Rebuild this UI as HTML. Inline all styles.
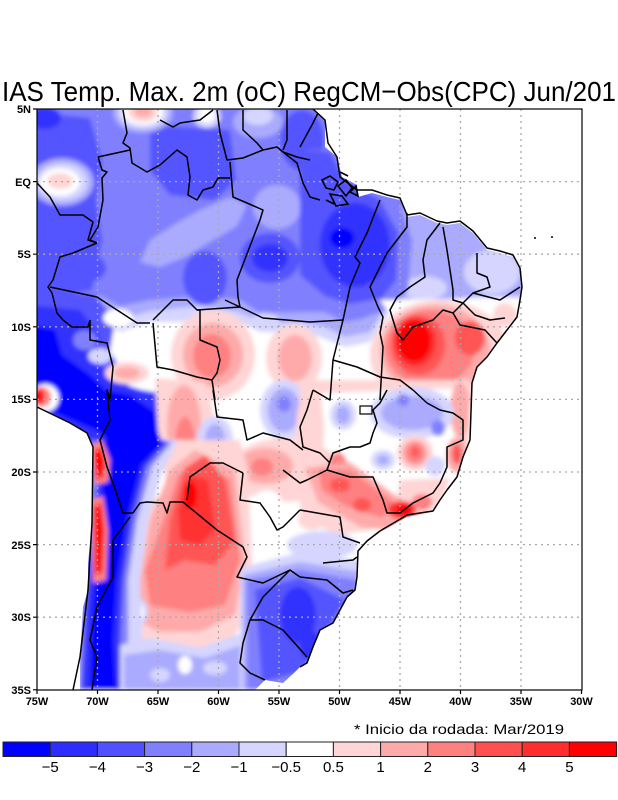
<!DOCTYPE html>
<html><head><meta charset="utf-8"><style>
html,body{margin:0;padding:0;background:#fff;}
svg{display:block;}
text{font-family:"Liberation Sans",sans-serif;}
</style></head><body>
<svg width="618" height="800" viewBox="0 0 618 800" xmlns="http://www.w3.org/2000/svg">
<defs>
<clipPath id="m"><path d="M37,109 L313,109 L325,120 L325,147 L337,157 L342,177 L357,185 L358,197 L372,193 L387,197 L400,200 L407,217 L420,215 L437,223 L447,225 L460,223 L473,233 L487,250 L500,253 L513,257 L520,270 L522,287 L520,300 L517,317 L507,330 L497,343 L487,357 L477,367 L472,383 L470,440 L463,457 L457,477 L447,490 L440,500 L433,513 L420,515 L407,517 L397,523 L380,533 L367,543 L358,553 L357,577 L355,590 L347,597 L340,610 L333,623 L320,630 L313,647 L307,663 L300,667 L295,672 L283,683 L265,680 L255,690 L80,690 L80,657 L83,607 L88,590 L88,563 L92,523 L93,447 L87,433 L70,423 L55,415 L37,408 Z"/></clipPath>
<filter id="b" x="-5%" y="-5%" width="110%" height="110%"><feGaussianBlur stdDeviation="2.2"/></filter>
</defs>
<rect width="618" height="800" fill="#fff"/>
<text x="2" y="101" font-size="28" textLength="614" lengthAdjust="spacingAndGlyphs">IAS Temp. Max. 2m (oC) RegCM−Obs(CPC) Jun/201</text>

<g clip-path="url(#m)"><g filter="url(#b)">
<rect x="30" y="100" width="560" height="600" fill="#fff"/>
<!-- north blues -->
<path fill="#d5d5ff" d="M30,100 H530 V300 L500,305 L470,300 L440,310 L400,305 L385,318 L370,342 L345,347 L320,337 L300,332 L260,332 L240,322 L200,317 L180,322 L150,322 L120,332 L100,322 L30,312 Z"/>
<path fill="#aaaaff" d="M30,100 H530 V292 L500,296 L470,292 L440,300 L405,298 L385,308 L370,332 L345,337 L325,327 L300,322 L265,324 L240,312 L200,306 L150,311 L120,320 L100,311 L30,302 Z"/>
<path fill="#8080ff" d="M30,100 H420 L410,215 L400,260 L395,295 L380,305 L365,318 L345,322 L325,312 L300,312 L260,313 L240,300 L200,296 L150,300 L120,306 L100,296 L30,290 Z"/>
<ellipse cx="490" cy="272" rx="32" ry="26" fill="#d5d5ff"/>
<ellipse cx="425" cy="285" rx="25" ry="14" fill="#d5d5ff"/>
<path fill="#5555ff" d="M30,112 L90,118 L102,160 L96,200 L102,240 L92,290 L30,300 Z"/>
<ellipse cx="45" cy="118" rx="16" ry="11" fill="#3333ff"/>
<ellipse cx="62" cy="182" rx="32" ry="24" fill="#aaaaff"/>
<ellipse cx="62" cy="182" rx="26" ry="19" fill="#d5d5ff"/>
<ellipse cx="60" cy="182" rx="20" ry="14" fill="#fff"/>
<ellipse cx="60" cy="181" rx="13" ry="8" fill="#ffd5d5"/>
<path fill="#5555ff" d="M150,125 L230,130 L236,180 L215,200 L170,195 L150,170 Z"/>
<ellipse cx="143" cy="113" rx="30" ry="20" fill="#aaaaff"/>
<ellipse cx="143" cy="113" rx="25" ry="16" fill="#d5d5ff"/>
<ellipse cx="143" cy="112" rx="20" ry="13" fill="#fff"/>
<ellipse cx="143" cy="112" rx="15" ry="10" fill="#ffd5d5"/>
<ellipse cx="143" cy="111" rx="9" ry="6" fill="#ffaaaa"/>
<ellipse cx="207" cy="116" rx="14" ry="12" fill="#d5d5ff"/>
<ellipse cx="207" cy="115" rx="8" ry="8" fill="#fff"/>
<ellipse cx="258" cy="122" rx="25" ry="16" fill="#aaaaff"/>
<ellipse cx="258" cy="116" rx="15" ry="9" fill="#d5d5ff"/>
<ellipse cx="302" cy="140" rx="22" ry="30" fill="#5555ff"/>
<path fill="#aaaaff" d="M140,262 L150,240 L175,224 L200,210 L230,197 L247,205 L237,226 L210,242 L185,257 L160,267 Z"/>
<ellipse cx="277" cy="207" rx="24" ry="22" fill="#aaaaff"/>
<ellipse cx="88" cy="268" rx="18" ry="14" fill="#5555ff"/>
<ellipse cx="205" cy="278" rx="22" ry="27" fill="#5555ff"/>
<ellipse cx="270" cy="258" rx="30" ry="25" fill="#5555ff"/>
<ellipse cx="270" cy="258" rx="18" ry="14" fill="#3333ff"/>
<!-- Para -->
<path fill="#aaaaff" d="M390,205 L530,235 L530,296 L480,296 L440,300 L400,298 Z"/>
<ellipse cx="492" cy="272" rx="28" ry="22" fill="#d5d5ff"/>
<ellipse cx="425" cy="288" rx="22" ry="12" fill="#d5d5ff"/>
<path fill="#8080ff" d="M300,150 L335,150 L360,180 L400,205 L412,240 L408,290 L390,310 L360,318 L330,308 L300,290 Z"/>
<path fill="#5555ff" d="M300,150 L330,152 L345,180 L380,200 L398,232 L396,280 L382,298 L350,304 L325,296 L300,275 Z"/>
<ellipse cx="355" cy="245" rx="35" ry="42" fill="#3333ff"/>
<ellipse cx="342" cy="238" rx="12" ry="10" fill="#0000ff"/>
<!-- NE red -->
<path fill="#fff" d="M380,300 L520,298 L520,320 L470,335 L400,330 Z"/>
<ellipse cx="440" cy="355" rx="70" ry="55" fill="#ffd5d5"/>
<ellipse cx="435" cy="350" rx="55" ry="45" fill="#ffaaaa"/>
<ellipse cx="430" cy="348" rx="45" ry="38" fill="#ff8080"/>
<ellipse cx="470" cy="338" rx="15" ry="17" fill="#ff5555"/>
<ellipse cx="418" cy="345" rx="27" ry="30" fill="#ff5555"/>
<ellipse cx="415" cy="342" rx="21" ry="25" fill="#ff3333"/>
<ellipse cx="414" cy="341" rx="17" ry="21" fill="#ff0000"/>
<ellipse cx="505" cy="315" rx="12" ry="12" fill="#ffd5d5"/>
<!-- west dark blue -->
<path fill="#5555ff" d="M30,290 L95,295 L115,320 L110,350 L130,388 L172,395 L177,440 L160,462 L120,472 L100,452 L30,412 Z"/>
<path fill="#3333ff" d="M30,305 L80,310 L100,335 L95,360 L120,383 L166,398 L167,440 L150,455 L115,457 L95,442 L30,406 Z"/>
<path fill="#0000ff" d="M30,325 L55,330 L62,355 L90,375 L105,390 L130,395 L155,412 L160,440 L145,450 L115,447 L100,432 L30,402 Z"/>
<ellipse cx="85" cy="340" rx="12" ry="10" fill="#8080ff"/>
<ellipse cx="100" cy="356" rx="12" ry="8" fill="#d5d5ff"/>
<ellipse cx="45" cy="398" rx="14" ry="14" fill="#fff"/>
<ellipse cx="42" cy="397" rx="9" ry="10" fill="#ff8080"/>
<ellipse cx="39" cy="396" rx="5" ry="8" fill="#ff0000"/>
<ellipse cx="118" cy="318" rx="15" ry="9" fill="#fff"/>
<!-- central pinks -->
<ellipse cx="213" cy="355" rx="42" ry="45" fill="#ffd5d5"/>
<ellipse cx="213" cy="355" rx="30" ry="32" fill="#ffaaaa"/>
<ellipse cx="212" cy="356" rx="19" ry="22" fill="#ff8080"/>
<ellipse cx="294" cy="358" rx="28" ry="34" fill="#ffd5d5"/>
<ellipse cx="295" cy="358" rx="17" ry="23" fill="#ffaaaa"/>
<ellipse cx="265" cy="322" rx="15" ry="9" fill="#d5d5ff"/>
<ellipse cx="127" cy="373" rx="22" ry="11" fill="#ffd5d5"/>
<ellipse cx="127" cy="373" rx="13" ry="6" fill="#ffaaaa"/>
<path fill="#ffd5d5" d="M155,378 L205,382 L215,420 L208,470 L170,470 L158,430 Z"/>
<ellipse cx="184" cy="425" rx="17" ry="40" fill="#ffaaaa"/>
<ellipse cx="185" cy="445" rx="10" ry="28" fill="#ff8080"/>
<ellipse cx="343" cy="415" rx="14" ry="16" fill="#d5d5ff"/>
<ellipse cx="343" cy="415" rx="8" ry="10" fill="#aaaaff"/>
<ellipse cx="284" cy="410" rx="24" ry="30" fill="#d5d5ff"/>
<ellipse cx="284" cy="410" rx="16" ry="22" fill="#aaaaff"/>
<ellipse cx="284" cy="404" rx="7" ry="8" fill="#8080ff"/>
<ellipse cx="215" cy="440" rx="18" ry="24" fill="#d5d5ff"/>
<ellipse cx="215" cy="440" rx="10" ry="16" fill="#aaaaff"/>
<!-- SE Brazil -->
<path fill="#ffd5d5" d="M300,380 L470,380 L470,440 L440,500 L400,525 L340,535 L300,520 Z"/>
<path fill="#fff" d="M322,393 L462,388 L455,495 L392,500 L342,470 L318,455 Z"/>
<ellipse cx="310" cy="430" rx="14" ry="42" fill="#ffd5d5"/>
<ellipse cx="460" cy="410" rx="10" ry="28" fill="#ffaaaa"/>
<ellipse cx="412" cy="413" rx="42" ry="26" fill="#d5d5ff"/>
<ellipse cx="412" cy="413" rx="31" ry="17" fill="#aaaaff"/>
<ellipse cx="438" cy="428" rx="7" ry="8" fill="#8080ff"/>
<ellipse cx="403" cy="400" rx="6" ry="6" fill="#8080ff"/>
<ellipse cx="343" cy="415" rx="13" ry="15" fill="#d5d5ff"/>
<ellipse cx="343" cy="415" rx="7" ry="9" fill="#aaaaff"/>
<ellipse cx="415" cy="453" rx="18" ry="18" fill="#ffd5d5"/>
<ellipse cx="415" cy="453" rx="13" ry="13" fill="#ffaaaa"/>
<ellipse cx="415" cy="453" rx="9" ry="10" fill="#ff8080"/>
<ellipse cx="415" cy="452" rx="4" ry="5" fill="#ff5555"/>
<ellipse cx="383" cy="460" rx="12" ry="10" fill="#d5d5ff"/>
<ellipse cx="383" cy="460" rx="6" ry="5" fill="#aaaaff"/>
<ellipse cx="435" cy="466" rx="10" ry="10" fill="#d5d5ff"/>
<ellipse cx="457" cy="455" rx="11" ry="18" fill="#ffaaaa"/>
<ellipse cx="457" cy="454" rx="5" ry="10" fill="#ff5555"/>
<path fill="#ffd5d5" d="M400,480 L450,478 L440,505 L420,518 L395,510 Z"/>
<ellipse cx="285" cy="470" rx="55" ry="32" fill="#ffd5d5"/>
<ellipse cx="265" cy="466" rx="28" ry="18" fill="#ffaaaa"/>
<ellipse cx="262" cy="467" rx="11" ry="9" fill="#ff8080"/>
<ellipse cx="338" cy="470" rx="10" ry="18" fill="#ff8080"/>
<ellipse cx="267" cy="512" rx="18" ry="22" fill="#fff"/>
<path fill="#ffaaaa" d="M305,468 L350,462 L402,500 L425,520 L400,532 L360,527 L318,502 Z"/>
<path fill="#ff8080" d="M318,470 L350,470 L395,503 L382,518 L345,506 L322,490 Z"/>
<ellipse cx="340" cy="485" rx="10" ry="7" fill="#ff5555"/>
<ellipse cx="362" cy="505" rx="9" ry="7" fill="#ff5555"/>
<ellipse cx="402" cy="510" rx="14" ry="9" fill="#ff3333"/>
<ellipse cx="404" cy="510" rx="8" ry="6" fill="#ff0000"/>
<ellipse cx="422" cy="502" rx="10" ry="8" fill="#ff8080"/>
<ellipse cx="312" cy="520" rx="14" ry="10" fill="#ffd5d5"/>
<!-- Paraguay / Argentina reds -->
<path fill="#ffd5d5" d="M145,440 L200,440 L240,440 L248,470 L252,560 L250,610 L232,640 L190,652 L140,650 L122,630 L130,560 L145,500 L150,460 Z"/>
<ellipse cx="150" cy="478" rx="15" ry="22" fill="#fff"/>
<path fill="#ffaaaa" d="M150,520 L170,470 L195,450 L235,470 L245,560 L235,615 L200,632 L160,632 L135,620 L140,580 Z"/>
<path fill="#ff8080" d="M160,530 L178,475 L200,460 L230,480 L240,560 L225,605 L190,612 L150,605 L145,570 Z"/>
<path fill="#ff5555" d="M170,520 L185,468 L205,455 L225,480 L235,540 L215,565 L185,560 L165,570 Z"/>
<path fill="#ff3333" d="M178,510 L190,476 L208,480 L215,530 L200,545 L180,540 Z"/>
<ellipse cx="190" cy="495" rx="7" ry="14" fill="#ff0000"/>
<ellipse cx="138" cy="612" rx="10" ry="14" fill="#d5d5ff"/>
<ellipse cx="138" cy="612" rx="6" ry="9" fill="#fff"/>
<!-- Andes blue strip -->
<path fill="#d5d5ff" d="M93,440 L178,440 L162,472 L148,520 L140,580 L142,640 L140,690 L78,690 L78,600 L88,520 L92,460 Z"/>
<path fill="#8080ff" d="M93,440 L172,442 L152,466 L137,520 L128,580 L128,640 L128,690 L78,690 L80,600 L88,520 Z"/>
<path fill="#3333ff" d="M96,440 L168,441 L146,466 L132,520 L123,580 L120,640 L122,690 L82,690 L86,610 L92,540 L98,480 Z"/>
<path fill="#0000ff" d="M102,440 L165,440 L141,465 L127,520 L117,580 L113,640 L116,690 L90,690 L92,620 L97,560 L103,500 L101,460 Z"/>
<path fill="#ff8080" d="M91,445 L102,440 L110,460 L108,482 L95,485 Z"/>
<path fill="#ff0000" d="M93,452 L101,447 L105,462 L103,477 L96,479 Z"/>
<path fill="#ff8080" d="M91,500 L103,496 L108,530 L106,580 L93,583 Z"/>
<path fill="#ff0000" d="M94,507 L101,503 L104,530 L102,572 L95,575 Z"/>
<!-- south light blue -->
<path fill="#d5d5ff" d="M120,645 L150,638 L200,648 L250,630 L262,690 L120,690 Z"/>
<path fill="#aaaaff" d="M124,655 L160,650 L205,658 L250,642 L258,690 L124,690 Z"/>
<ellipse cx="185" cy="665" rx="7" ry="9" fill="#fff"/>
<ellipse cx="160" cy="675" rx="10" ry="7" fill="#d5d5ff"/>
<ellipse cx="215" cy="668" rx="12" ry="7" fill="#d5d5ff"/>
<!-- Uruguay / RS blues -->
<ellipse cx="322" cy="545" rx="35" ry="14" fill="#d5d5ff"/>
<path fill="#d5d5ff" d="M240,568 L300,552 L360,560 L360,600 L330,640 L310,690 L240,690 Z"/>
<path fill="#aaaaff" d="M243,575 L300,562 L360,572 L355,605 L328,640 L305,690 L243,690 Z"/>
<path fill="#8080ff" d="M247,580 L300,570 L358,580 L350,610 L325,640 L300,690 L247,690 Z"/>
<path fill="#5555ff" d="M255,590 L300,578 L345,600 L322,640 L300,672 L262,682 Z"/>
<ellipse cx="298" cy="615" rx="18" ry="28" fill="#3333ff"/>
<ellipse cx="310" cy="645" rx="10" ry="15" fill="#3333ff"/>
</g></g>

<!-- grid -->
<g stroke="#aaaaaa" stroke-width="1.3" stroke-dasharray="2 4" fill="none">
<path d="M97.5,109V690M158,109V690M218.5,109V690M279,109V690M339.5,109V690M400,109V690M460.5,109V690M521,109V690"/>
<path d="M37,181.6H582M37,254.2H582M37,326.8H582M37,399.4H582M37,472H582M37,544.6H582M37,617.2H582"/>
</g>

<!-- coastlines & borders -->
<g stroke="#000" stroke-width="1.5" fill="none" stroke-linejoin="round">
<path d="M313,109 L325,120 L328,143 L337,157 L340,177 L357,190 L372,190 L387,195 L400,198 L407,215 L420,213 L437,221 L447,223 L460,221 L473,231 L487,248 L500,251 L513,255 L520,268 L522,287 L520,300 L517,317 L507,330 L497,343 L487,357 L477,367 L472,383 L470,440 L463,457 L457,477 L447,490 L440,500 L433,511 L420,513 L407,515 L397,521 L380,531 L367,541 L358,551 L357,577 L355,590 L347,597 L340,610 L333,623 L320,630 L313,647 L307,663 L300,667"/>
<path d="M37,407 L70,423 L87,433 L93,447 L92,523 L88,590 L80,657 L73,690"/>
<path d="M123,110 L127,133 L123,143 L130,148 L132,163 L147,172 L160,165 L177,150 L187,157 L190,177 L188,195 L197,200 L203,190 L213,187 L218,178 L230,178"/>
<path d="M98,157 L130,150"/>
<path d="M98,157 L102,170 L107,172 L102,178 L103,200 L98,227 L90,240 L97,243"/>
<path d="M37,183 L50,197 L60,215 L83,215 L93,222 L88,240 L97,243"/>
<path d="M97,243 L73,253 L60,257 L53,280 L48,287 L52,293 L57,313 L63,320 L72,327 L88,327 L90,320"/>
<path d="M50,287 L97,297 L137,323 L150,323"/>
<path d="M90,320 L90,340 L107,343 L113,367 L110,400 L107,390 L110,420 L100,440 L107,467 L113,483 L123,513 L133,513"/>
<path d="M153,320 L173,300 L187,300 L197,310 L200,310 L200,340 L217,347 L220,360 L217,373 L212,380 L215,400"/>
<path d="M153,323 L157,367 L173,370 L197,377 L212,380"/>
<path d="M230,162 L233,197 L247,203 L263,210 L260,220 L237,280 L238,297 L240,307 L197,310"/>
<path d="M240,307 L263,318 L310,322 L343,320"/>
<path d="M217,110 L220,133 L227,160 L243,158 L263,150 L277,147 L283,152 L297,157 L310,160"/>
<path d="M243,110 L243,130 L257,143 L263,150"/>
<path d="M287,110 L287,140 L283,150"/>
<path d="M283,152 L297,163 L303,183 L310,197 L320,200"/>
<path d="M160,120 L173,127 L180,123 L200,120 L213,110"/>
<path d="M300,147 L313,123 L318,113"/>
<path d="M380,200 L367,233 L355,257 L360,263 L350,287 L343,320 L333,360 L330,400 L313,390"/>
<path d="M407,213 L407,227 L387,253 L377,273 L370,287 L378,307 L383,317 L380,333 L383,347 L380,400"/>
<path d="M440,223 L427,240 L423,260 L425,277 L410,287 L397,297 L390,310 L393,320 L397,333 L403,340 L413,327 L433,320 L443,310 L453,313 L463,303"/>
<path d="M443,227 L447,250 L453,290 L453,300 L463,303 L473,293 L490,287 L487,277 L477,273 L477,253"/>
<path d="M473,293 L500,300 L520,287"/>
<path d="M463,303 L475,315 L490,320 L505,318"/>
<path d="M453,313 L460,325 L485,330 L497,343"/>
<path d="M333,360 L357,367 L380,377 L400,380 L413,390"/>
<path d="M313,390 L307,410 L300,427 L303,447 L320,453 L330,463"/>
<path d="M387,390 L380,403 L373,410 L377,423 L373,433 L370,443 L360,447 L350,447 L333,453 L327,470 L307,480 L300,483 L283,470"/>
<path d="M327,470 L350,477 L373,477 L383,500 L387,513 L400,513 L413,503 L433,493 L440,483 L447,467 L447,447 L463,440 L463,420 L453,413 L440,410 L427,403 L413,390"/>
<path d="M300,510 L340,517 L343,537 L360,543"/>
<path d="M323,563 L353,560 L357,557"/>
<path d="M300,577 L327,580 L343,593 L353,590"/>
<path d="M133,513 L140,503 L147,502 L163,503 L167,513 L170,502 L183,502"/>
<path d="M183,502 L217,530 L243,547 L247,557 L237,577 L263,583 L290,570 L300,577"/>
<path d="M187,500 L190,477 L210,463 L223,463 L243,473"/>
<path d="M243,473 L240,500 L260,503 L270,517 L277,530 L283,527 L300,510"/>
<path d="M213,390 L217,417 L243,420 L247,440 L263,433 L290,440 L303,450"/>
<path d="M130,517 L113,540 L113,577 L97,607 L90,640 L97,657 L93,683 L92,690"/>
<path d="M290,570 L263,597 L250,620 L243,643 L240,663 L250,673 L265,680"/>
<path d="M250,620 L263,620 L283,630 L307,657"/>
<path d="M225,300 L240,307"/>
</g>
<g stroke="#000" stroke-width="1.6" fill="none">
<path d="M322,180 L330,176 L338,182 L334,190 L326,188 Z M338,186 L346,180 L352,188 L346,196 Z M330,194 L342,196 L348,204 L336,206 Z M350,192 L356,186 L358,196 Z M340,172 L348,176 M326,200 L334,204"/>
</g>
<rect x="360" y="406" width="12" height="8" fill="none" stroke="#000" stroke-width="1.2"/>
<circle cx="535" cy="238" r="1" fill="#000"/><circle cx="552" cy="237" r="1" fill="#000"/>

<!-- frame -->
<rect x="37" y="109" width="545" height="581" fill="none" stroke="#000" stroke-width="1.2"/>
<g stroke="#000" stroke-width="1.2">
<path d="M33,109H37M33,181.6H37M33,254.2H37M33,326.8H37M33,399.4H37M33,472H37M33,544.6H37M33,617.2H37M33,689.8H37"/>
<path d="M37,690V694M97.5,690V694M158,690V694M218.5,690V694M279,690V694M339.5,690V694M400,690V694M460.5,690V694M521,690V694M581.5,690V694"/>
</g>
<g font-size="11" text-anchor="end" font-weight="bold">
<text x="31" y="113">5N</text>
<text x="31" y="186">EQ</text>
<text x="31" y="258">5S</text>
<text x="31" y="331">10S</text>
<text x="31" y="403">15S</text>
<text x="31" y="476">20S</text>
<text x="31" y="549">25S</text>
<text x="31" y="621">30S</text>
<text x="31" y="694">35S</text>
</g>
<g font-size="11" text-anchor="middle" font-weight="bold">
<text x="37" y="705">75W</text>
<text x="97.5" y="705">70W</text>
<text x="158" y="705">65W</text>
<text x="218.5" y="705">60W</text>
<text x="279" y="705">55W</text>
<text x="339.5" y="705">50W</text>
<text x="400" y="705">45W</text>
<text x="460.5" y="705">40W</text>
<text x="521" y="705">35W</text>
<text x="581.5" y="705">30W</text>
</g>
<text x="354" y="734" font-size="14" textLength="210" lengthAdjust="spacingAndGlyphs">* Inicio da rodada: Mar/2019</text>

<!-- colorbar -->
<g stroke="#222" stroke-width="1">
<rect x="3" y="742" width="47.2" height="14.5" fill="#0000ff"/>
<rect x="50.2" y="742" width="47.2" height="14.5" fill="#2d2dff"/>
<rect x="97.4" y="742" width="47.2" height="14.5" fill="#5050ff"/>
<rect x="144.6" y="742" width="47.2" height="14.5" fill="#8080ff"/>
<rect x="191.8" y="742" width="47.2" height="14.5" fill="#aaaaff"/>
<rect x="239" y="742" width="47.2" height="14.5" fill="#d5d5ff"/>
<rect x="286.2" y="742" width="47.2" height="14.5" fill="#ffffff"/>
<rect x="333.4" y="742" width="47.2" height="14.5" fill="#ffd5d5"/>
<rect x="380.6" y="742" width="47.2" height="14.5" fill="#ffaaaa"/>
<rect x="427.8" y="742" width="47.2" height="14.5" fill="#ff8080"/>
<rect x="475" y="742" width="47.2" height="14.5" fill="#ff5050"/>
<rect x="522.2" y="742" width="47.2" height="14.5" fill="#ff2d2d"/>
<rect x="569.4" y="742" width="47.2" height="14.5" fill="#ff0000"/>
</g>
<g font-size="15" text-anchor="middle">
<text x="50.2" y="772">−5</text>
<text x="97.4" y="772">−4</text>
<text x="144.6" y="772">−3</text>
<text x="191.8" y="772">−2</text>
<text x="239" y="772">−1</text>
<text x="286.2" y="772">−0.5</text>
<text x="333.4" y="772">0.5</text>
<text x="380.6" y="772">1</text>
<text x="427.8" y="772">2</text>
<text x="475" y="772">3</text>
<text x="522.2" y="772">4</text>
<text x="569.4" y="772">5</text>
</g>
</svg>
</body></html>
